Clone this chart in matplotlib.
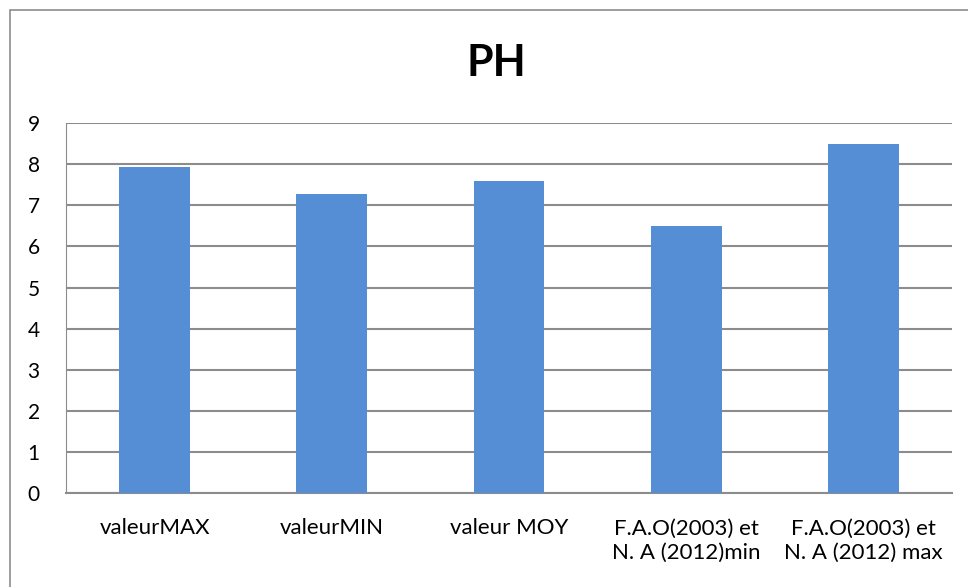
import matplotlib.pyplot as plt
from matplotlib.patches import Rectangle

# données du graphique
categories = ['valeurMAX', 'valeurMIN', 'valeur MOY',
              'F.A.O(2003) et\nN. A (2012)min', 'F.A.O(2003) et\nN. A (2012) max']
valeurs = [7.92, 7.27, 7.58, 6.5, 8.5]
yticks = [0, 1, 2, 3, 4, 5, 6, 7, 8, 9]

plt.rcParams['font.family'] = ['Lato', 'Open Sans', 'DejaVu Sans']

fig = plt.figure(figsize=(9.68, 5.87), dpi=100)
# cadre gris du graphique
fig.patches.append(Rectangle((10 / 968, -0.1), 1.2, 1.1 - 10 / 587,
                             transform=fig.transFigure, fill=False,
                             edgecolor='#8c8c8c', linewidth=1.2))
ax = fig.add_axes([0.0682, 0.1595, 0.9153, 0.631])

x = range(len(categories))
ax.bar(x, valeurs, width=0.4, color='#558ed5', zorder=3)
ax.set_xlim(-0.5, len(categories) - 0.5)
ax.set_ylim(0, 9)
ax.set_yticks(yticks)
ax.set_xticks(list(x))
ax.set_xticklabels(categories, fontsize=16, linespacing=1.3)
ax.tick_params(axis='y', labelsize=15, length=0, pad=19)
ax.tick_params(axis='x', length=0, pad=18)
ax.grid(axis='y', color='#8c8c8c', linewidth=1.5, zorder=0)
for s in ['top', 'right']:
    ax.spines[s].set_visible(False)
ax.spines['left'].set_color('#8c8c8c')
ax.spines['bottom'].set_color('#8c8c8c')
ax.spines['bottom'].set_linewidth(1.5)

fig.text(0.513, 0.893, 'PH', ha='center', va='center', fontsize=31,
         fontweight='bold')

fig.savefig('out.png', dpi=100)
